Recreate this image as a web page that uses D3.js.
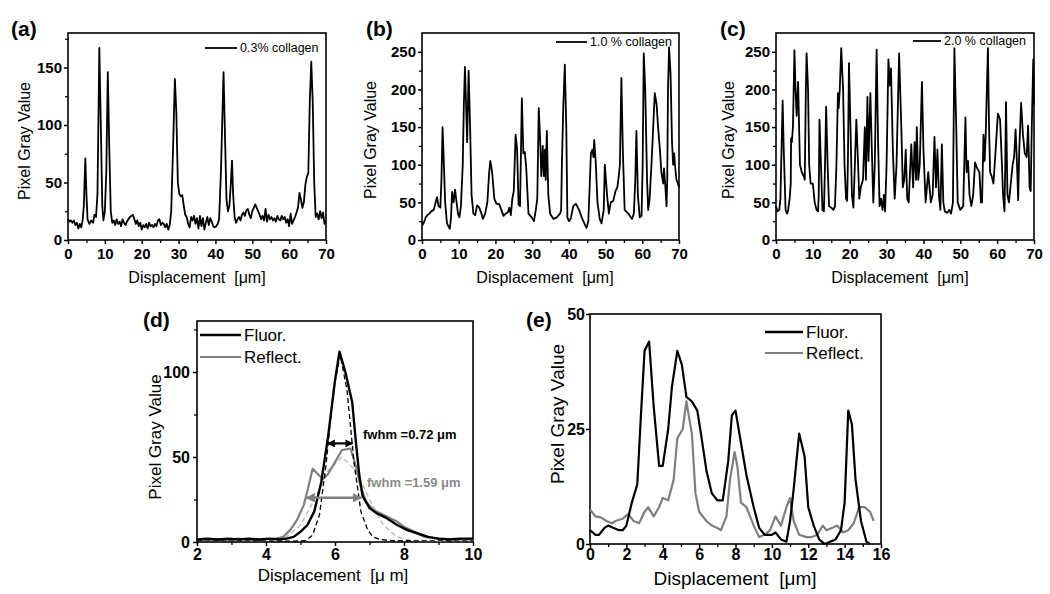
<!DOCTYPE html>
<html><head><meta charset="utf-8">
<script src="https://cdn.jsdelivr.net/npm/d3@7"></script>
<style>
body{margin:0;background:#fff;}
svg{font-family:"Liberation Sans",Arial,sans-serif;}
.tk text{font-family:"Liberation Sans",Arial,sans-serif;font-weight:bold;fill:#000;}
</style></head>
<body><svg id="c" width="1050" height="594"></svg>
<script>
// ---------- DATA ----------
const profile03 = [[0,18],[0.4,16],[0.8,17],[1.2,15],[1.6,17],[2.0,13],[2.4,15],[2.8,10],[3.2,14],[3.6,11],[4.0,18],[4.3,30],[4.7,71],[5.0,40],[5.3,18],[5.8,14],[6.3,17],[6.8,15],[7.2,22],[7.6,20],[8.0,40],[8.5,167],[8.9,100],[9.3,30],[9.6,17],[10.0,25],[10.4,60],[10.8,146],[11.2,80],[11.6,25],[12.0,15],[12.4,17],[12.8,13],[13.2,18],[13.6,14],[14.0,16],[14.4,12],[14.8,18],[15.2,15],[15.6,13],[16.0,16],[16.4,18],[16.8,20],[17.2,21],[17.6,22],[18.0,18],[18.4,14],[18.8,17],[19.2,12],[19.6,15],[20.0,9],[20.4,13],[20.8,11],[21.2,14],[21.6,10],[22.0,15],[22.4,12],[22.8,13],[23.2,11],[23.6,14],[24.0,12],[24.4,17],[24.8,18],[25.2,13],[25.6,15],[26.0,14],[26.4,11],[26.8,14],[27.2,9],[27.6,13],[28.0,25],[28.5,80],[29.0,140],[29.4,110],[29.8,50],[30.2,40],[30.6,38],[31.0,39],[31.4,30],[31.8,22],[32.2,20],[32.6,14],[33.0,11],[33.4,20],[33.8,17],[34.2,21],[34.6,14],[35.0,19],[35.4,10],[35.8,21],[36.2,12],[36.6,19],[37.0,9],[37.4,15],[37.8,20],[38.2,13],[38.6,19],[39.0,16],[39.4,12],[39.8,11],[40.2,12],[40.6,14],[41.0,18],[41.5,60],[42.2,146],[42.6,90],[43.0,35],[43.4,25],[43.8,30],[44.2,50],[44.5,69],[44.8,40],[45.2,20],[45.6,15],[46.0,18],[46.4,20],[46.8,17],[47.2,22],[47.6,24],[48.0,21],[48.4,26],[48.8,27],[49.2,22],[49.6,19],[50.0,25],[50.4,28],[50.8,31],[51.2,28],[51.6,25],[52.0,22],[52.4,18],[52.8,21],[53.2,17],[53.6,27],[54.0,16],[54.4,22],[54.8,18],[55.2,20],[55.6,17],[56.0,19],[56.4,16],[56.8,21],[57.2,18],[57.6,17],[58.0,21],[58.4,18],[58.8,20],[59.2,15],[59.6,18],[60.0,12],[60.4,23],[60.8,14],[61.2,17],[61.6,20],[62.0,24],[62.4,28],[62.8,41],[63.2,35],[63.6,28],[64.0,33],[64.4,48],[64.8,55],[65.2,58],[65.6,120],[66.0,155],[66.4,120],[66.8,50],[67.2,20],[67.6,23],[68.0,18],[68.4,25],[68.8,19],[69.2,24],[69.6,14],[70.0,17]];

const profile10 = [[0,25],[0.2,20],[0.6,24],[1.0,30],[1.5,33],[2.0,35],[2.5,38],[3.2,40],[3.8,52],[4.1,57],[4.5,45],[5.0,43],[5.3,80],[5.6,150],[5.9,110],[6.3,50],[6.8,22],[7.3,17],[7.6,15],[7.9,30],[8.2,64],[8.6,50],[9.0,67],[9.3,55],[9.8,35],[10.2,30],[10.6,45],[11.1,100],[11.4,180],[11.7,230],[12.0,180],[12.3,130],[12.7,225],[13.1,150],[13.5,60],[14.0,35],[14.5,33],[15.0,46],[15.6,43],[16.2,35],[16.6,28],[17.2,35],[17.8,50],[18.3,90],[18.6,105],[19.1,90],[19.7,55],[20.3,48],[21.0,48],[21.6,40],[22.2,32],[22.8,35],[23.4,37],[23.8,43],[24.2,33],[24.6,55],[25.0,65],[25.5,140],[25.9,120],[26.3,47],[26.7,45],[27.2,188],[27.6,115],[28.0,117],[28.4,95],[29.0,35],[29.9,30],[30.5,25],[31.0,40],[31.4,55],[31.8,175],[32.2,130],[32.5,85],[32.9,125],[33.2,85],[33.5,120],[33.7,80],[34.0,145],[34.4,60],[34.9,35],[35.8,28],[36.7,30],[37.6,35],[37.9,40],[38.1,100],[38.5,180],[38.9,233],[39.3,150],[39.6,30],[40.0,25],[40.5,28],[41.2,45],[41.9,48],[42.8,40],[43.5,30],[44.4,20],[44.8,16],[45.3,25],[45.7,75],[46.0,115],[46.4,120],[46.7,110],[46.9,133],[47.3,105],[47.8,50],[48.4,28],[48.9,22],[49.5,40],[49.8,100],[50.4,60],[50.9,35],[51.4,50],[52.1,52],[52.7,65],[53.2,70],[53.6,85],[53.9,100],[54.3,215],[54.7,120],[55.2,40],[56.2,35],[57.2,28],[57.7,35],[58.1,80],[58.4,145],[58.8,60],[59.3,30],[59.8,32],[60.1,100],[60.4,248],[60.8,200],[61.3,80],[61.6,40],[62.0,55],[62.5,100],[63.4,195],[63.9,180],[64.3,150],[64.8,120],[65.2,90],[65.7,75],[65.9,95],[66.3,70],[66.6,45],[66.8,80],[67.0,200],[67.3,256],[67.7,220],[68.1,130],[68.4,100],[68.7,115],[68.9,100],[69.3,80],[69.7,75],[70.0,70]];

const profile20 = [[0,45],[0.4,38],[0.9,40],[1.2,55],[1.5,120],[1.8,185],[2.1,120],[2.6,40],[3.0,35],[3.3,40],[3.7,55],[4.0,75],[4.1,135],[4.3,130],[4.6,150],[5.0,252],[5.3,200],[5.6,165],[6.0,210],[6.2,165],[6.5,100],[7.0,90],[7.5,85],[7.8,80],[8.1,200],[8.3,248],[8.7,200],[9.0,100],[9.4,75],[10.0,75],[10.5,50],[11.0,40],[11.4,38],[11.6,60],[11.8,160],[12.2,100],[12.6,40],[13.0,38],[13.3,100],[13.6,177],[14.0,100],[14.4,45],[15.0,43],[15.6,40],[16.0,45],[16.4,100],[16.8,195],[17.0,175],[17.3,200],[17.7,255],[18.2,200],[18.6,100],[19.0,55],[19.3,52],[19.5,100],[19.8,235],[20.2,150],[20.6,60],[21.0,43],[21.4,100],[21.8,160],[22.2,110],[22.6,55],[23.0,70],[23.6,80],[24.1,150],[24.4,80],[24.8,190],[25.1,105],[25.6,195],[26.0,120],[26.4,50],[26.8,100],[27.3,253],[27.7,130],[28.1,45],[28.5,55],[28.9,40],[29.3,60],[29.6,38],[30.0,100],[30.5,240],[30.9,205],[31.2,228],[31.7,120],[32.2,55],[32.7,100],[33.4,248],[34.0,150],[34.4,70],[34.8,80],[35.2,120],[35.6,55],[36.0,50],[36.7,127],[37.2,70],[37.6,130],[38.0,80],[38.2,150],[38.6,80],[39.0,100],[39.6,210],[40.0,120],[40.6,50],[41.3,90],[42.0,50],[42.5,60],[43.0,137],[43.4,70],[43.8,120],[44.2,60],[44.6,40],[45.0,127],[45.4,50],[45.8,38],[46.5,36],[47.0,40],[47.5,35],[48.0,50],[48.4,255],[48.9,150],[49.3,50],[50.0,40],[50.8,45],[51.4,163],[51.7,90],[52.1,105],[52.5,60],[53.0,45],[53.5,60],[54.0,103],[54.6,95],[55.2,90],[55.6,50],[55.9,50],[56.3,140],[56.6,105],[56.9,140],[57.5,255],[57.8,150],[58.1,90],[58.5,85],[59.0,75],[59.6,120],[60.2,168],[60.8,160],[61.3,100],[61.6,60],[62.0,38],[62.2,100],[62.4,183],[62.8,60],[63.2,50],[63.6,70],[64.2,100],[64.6,110],[65.0,147],[65.4,100],[65.7,53],[66.0,120],[66.5,182],[67.0,140],[67.5,115],[68.0,110],[68.4,152],[68.8,70],[69.1,65],[69.4,150],[69.8,240],[70.0,180]];

const fluorD = [[2,1.5],[2.3,2],[2.6,1.5],[2.9,2],[3.2,1.5],[3.5,2],[3.8,1.5],[4.1,2],[4.4,1.5],[4.6,2],[4.8,3],[5.0,6],[5.2,10],[5.4,18],[5.6,35],[5.8,62],[6.0,95],[6.13,112],[6.3,100],[6.5,82],[6.6,60],[6.7,40],[6.8,27],[7.0,20],[7.2,17],[7.5,14],[7.8,10],[8.1,7],[8.4,5],[8.7,3],[9.0,2],[9.3,1.5],[9.6,2],[10,2]];
const reflectD = [[2,1],[2.4,1.5],[2.8,1],[3.2,2],[3.6,1],[4.0,1.5],[4.3,2],[4.5,3],[4.7,7],[4.9,13],[5.1,22],[5.2,30],[5.35,43],[5.5,40],[5.65,37],[5.8,40],[6.0,47],[6.2,54],[6.45,55],[6.6,45],[6.75,32],[6.9,24],[7.1,19],[7.4,16],[7.6,14],[7.8,12],[8.0,9],[8.3,6],[8.6,3],[9.0,2],[9.5,1.5],[10,1.5]];
const fitFluorD = [[2,0.5],[3,0.5],[4,0.5],[4.8,0.5],[5.15,0.8],[5.35,4],[5.55,16],[5.75,47],[5.95,89],[6.15,110],[6.35,89],[6.55,47],[6.75,18],[6.95,7],[7.1,3],[7.3,1.5],[7.6,0.8],[10,0.5]];
const fitReflectD = [[2,0.5],[4,0.6],[4.6,3],[5.0,10],[5.4,25],[5.8,42],[6.2,50],[6.6,42],[7.0,25],[7.4,10],[7.8,3],[8.2,1],[9,0.5],[10,0.5]];

const fluorE = [[0,3],[0.3,2],[0.5,2],[0.8,3.5],[1.0,4],[1.3,3.5],[1.6,3],[1.8,3],[2.0,4],[2.3,9],[2.6,13],[2.8,28],[3.0,42],[3.25,44],[3.5,30],[3.8,17],[4.0,17],[4.3,25],[4.5,34],[4.8,42],[5.05,39],[5.3,32],[5.6,31],[5.9,29],[6.1,24],[6.4,16],[6.7,11],[7.0,9.5],[7.3,9.5],[7.6,18],[7.8,28],[8.0,29],[8.3,22],[8.6,15],[9.0,8],[9.3,3.5],[9.6,2],[10.0,2],[10.2,2.5],[10.5,1],[10.8,0.5],[11.0,5],[11.2,12],[11.5,24],[11.8,19],[12.0,8],[12.3,4],[12.6,1],[12.9,0],[13.2,0.5],[13.5,1],[13.8,3],[14.0,9],[14.2,29],[14.4,26],[14.6,14],[14.9,5],[15.2,0.5],[15.4,0]];
const reflectE = [[0,7.5],[0.3,6],[0.6,5.8],[0.9,5],[1.2,4.5],[1.4,5],[1.8,5.5],[2.1,6.5],[2.4,5],[2.7,4.5],[3.0,7],[3.2,8],[3.5,6],[3.8,8],[4.0,10],[4.3,9.5],[4.6,14],[4.8,23],[5.1,25],[5.3,31],[5.6,24],[5.8,11],[6.0,7],[6.4,5],[6.7,4],[7.0,3.5],[7.2,3],[7.5,6],[7.7,14],[7.95,20],[8.1,17],[8.3,9],[8.6,8],[9.0,4],[9.3,1.5],[9.6,2],[9.9,3],[10.2,6],[10.5,4],[10.8,8],[11.0,10],[11.2,5],[11.5,2],[11.9,1.5],[12.2,1.5],[12.5,2],[12.8,4],[13.0,3],[13.3,3.5],[13.6,4],[13.9,2.5],[14.2,3],[14.5,4.5],[14.8,8],[15.1,8],[15.4,7],[15.6,5]];

const fwhmLabels = ["fwhm =0.72 \u03bcm", "fwhm =1.59 \u03bcm"];
const fwhmArrowsD = [{x1:5.79, x2:6.51, y:58}, {x1:5.17, x2:6.76, y:26}];

const ticksABC_x = [0,10,20,30,40,50,60,70];
const ticksA_y = [0,50,100,150];
const ticksBC_y = [0,50,100,150,200,250];
const ticksD_x = [2,4,6,8,10];
const ticksD_y = [0,50,100];
const ticksE_x = [0,2,4,6,8,10,12,14,16];
const ticksE_y = [0,25,50];

// ---------- DRAW ----------
const svg = d3.select("#c");
const FONT = '"Liberation Sans",Arial,sans-serif';

function panel(cfg){
  const g = svg.append("g");
  const x = d3.scaleLinear().domain(cfg.xd).range([cfg.l, cfg.r]);
  const y = d3.scaleLinear().domain(cfg.yd).range([cfg.b, cfg.t]);
  if(cfg.xMinor){
    g.append("g").attr("transform",`translate(0,${cfg.b})`)
      .call(d3.axisBottom(x).tickValues(cfg.xMinor).tickSize(cfg.minorSize).tickFormat(""))
      .call(a=>a.select(".domain").remove())
      .selectAll("line").attr("stroke-width",1.3);
  }
  if(cfg.yMinor){
    g.append("g").attr("transform",`translate(${cfg.l},0)`)
      .call(d3.axisLeft(y).tickValues(cfg.yMinor).tickSize(cfg.minorSize).tickFormat(""))
      .call(a=>a.select(".domain").remove())
      .selectAll("line").attr("stroke-width",1.3);
  }
  const ax = g.append("g").attr("class","tk").attr("transform",`translate(0,${cfg.b})`)
    .call(d3.axisBottom(x).tickValues(cfg.xt).tickSize(cfg.tickSize).tickPadding(cfg.xPad).tickSizeOuter(0).tickFormat(d3.format("d")));
  const ay = g.append("g").attr("class","tk").attr("transform",`translate(${cfg.l},0)`)
    .call(d3.axisLeft(y).tickValues(cfg.yt).tickSize(cfg.tickSize).tickPadding(cfg.yPad).tickSizeOuter(0).tickFormat(d3.format("d")));
  [ax,ay].forEach(a=>{
    a.select(".domain").remove();
    a.attr("font-size",null).attr("font-family",null);
    a.selectAll("line").attr("stroke-width",1.5);
    a.selectAll("text").style("font-size",cfg.tickFont+"px").style("font-weight","bold");
  });
  g.append("rect").attr("x",cfg.l).attr("y",cfg.t).attr("width",cfg.r-cfg.l).attr("height",cfg.b-cfg.t)
    .attr("fill","none").attr("stroke","#000").attr("stroke-width",1.6);
  const line = d3.line().x(d=>x(d[0])).y(d=>y(d[1]));
  cfg.series.forEach(s=>{
    g.append("path").datum(s.data).attr("d",line).attr("fill","none")
      .attr("stroke",s.color).attr("stroke-width",s.w).attr("stroke-dasharray",s.dash||null)
      .attr("stroke-linejoin","round");
  });
  g.append("text").attr("x",cfg.plx).attr("y",cfg.ply).attr("font-family",FONT).attr("font-weight","bold")
    .attr("font-size",21).text(cfg.panel);
  g.append("text").attr("transform",`translate(${cfg.ylx},${cfg.yly}) rotate(-90)`).attr("text-anchor","middle")
    .attr("dominant-baseline","central").attr("font-family",FONT).attr("font-size",cfg.labFont).text("Pixel Gray Value");
  g.append("text").attr("x",cfg.xlx).attr("y",cfg.xly).attr("text-anchor","middle").style("white-space","pre")
    .attr("font-family",FONT).attr("font-size",cfg.labFont).text(cfg.xlab);
  cfg.legend.forEach(L=>{
    g.append("line").attr("x1",L.x1).attr("x2",L.x2).attr("y1",L.y).attr("y2",L.y)
      .attr("stroke",L.color).attr("stroke-width",L.w);
    g.append("text").attr("x",L.x2+3).attr("y",L.y).attr("dy","0.35em").attr("font-family",FONT)
      .attr("font-size",L.fs).text(L.text);
  });
  return {g,x,y};
}

const m5 = d3.range(5,70,10);
const m25bc = d3.range(25,275,50);
const m25a = [25,75,125,175];

panel({l:68,r:326,t:33,b:240,xd:[0,70],yd:[0,180],xt:ticksABC_x,yt:ticksA_y,xMinor:m5,yMinor:m25a,
  tickSize:4,minorSize:3,xPad:4,yPad:2,tickFont:15,labFont:16,
  series:[{data:profile03,color:"#000",w:1.8}],
  panel:"(a)",plx:11,ply:36,ylx:24,yly:141,xlx:197,xly:283,xlab:"Displacement  [\u03bcm]",
  legend:[{x1:205,x2:237,y:48,color:"#000",w:1.8,fs:12.5,text:"0.3% collagen"}]});

panel({l:422,r:679,t:33,b:240,xd:[0,70],yd:[0,275],xt:ticksABC_x,yt:ticksBC_y,xMinor:m5,yMinor:m25bc,
  tickSize:4,minorSize:3,xPad:4,yPad:2,tickFont:15,labFont:16,
  series:[{data:profile10,color:"#000",w:1.8}],
  panel:"(b)",plx:366,ply:36,ylx:370,yly:140,xlx:545,xly:283,xlab:"Displacement  [\u03bcm]",
  legend:[{x1:556,x2:587,y:42,color:"#000",w:1.8,fs:12.5,text:"1.0 % collagen"}]});

panel({l:776,r:1034,t:33,b:240,xd:[0,70],yd:[0,275],xt:ticksABC_x,yt:ticksBC_y,xMinor:m5,yMinor:m25bc,
  tickSize:4,minorSize:3,xPad:4,yPad:2,tickFont:15,labFont:16,
  series:[{data:profile20,color:"#000",w:1.8}],
  panel:"(c)",plx:720,ply:36,ylx:728,yly:140,xlx:900,xly:283,xlab:"Displacement  [\u03bcm]",
  legend:[{x1:913,x2:941,y:41,color:"#000",w:1.8,fs:12.5,text:"2.0 % collagen"}]});

const pd = panel({l:197,r:473,t:321,b:542,xd:[2,10],yd:[0,130],xt:ticksD_x,yt:ticksD_y,xMinor:[3,5,7,9],yMinor:[25,75,125],
  tickSize:4,minorSize:3,xPad:3,yPad:3,tickFont:16,labFont:17,
  series:[{data:fitReflectD,color:"#bdbdbd",w:1.5,dash:"5,3"},
          {data:reflectD,color:"#7f7f7f",w:2.2},
          {data:fluorD,color:"#000",w:2.4},
          {data:fitFluorD,color:"#000",w:1.3,dash:"5,3"}],
  panel:"(d)",plx:143,ply:327,ylx:155,yly:437,xlx:333,xly:581,xlab:"Displacement  [\u03bc m]",
  legend:[{x1:200,x2:241,y:335,color:"#000",w:2.4,fs:17,text:"Fluor."},
          {x1:200,x2:241,y:357,color:"#7f7f7f",w:2.2,fs:17,text:"Reflect."}]});

const defs = svg.append("defs");
[["hb","#000"],["hg","#7f7f7f"]].forEach(([id,c])=>{
  defs.append("marker").attr("id",id).attr("viewBox","0 0 10 10").attr("refX",9).attr("refY",5)
    .attr("markerWidth",3.6).attr("markerHeight",3.6).attr("orient","auto-start-reverse")
    .append("path").attr("d","M0,0L10,5L0,10z").attr("fill",c);
});
const arrowCols = ["#000","#7f7f7f"], arrowMk = ["hb","hg"], arrowW=[2.2,2.6];
fwhmArrowsD.forEach((a,i)=>{
  pd.g.append("line").attr("x1",pd.x(a.x1)).attr("x2",pd.x(a.x2)).attr("y1",pd.y(a.y)).attr("y2",pd.y(a.y))
    .attr("stroke",arrowCols[i]).attr("stroke-width",arrowW[i])
    .attr("marker-start",`url(#${arrowMk[i]})`).attr("marker-end",`url(#${arrowMk[i]})`);
});
pd.g.append("text").attr("x",363).attr("y",439).attr("font-family",FONT).attr("font-weight","bold")
  .attr("font-size",13).attr("fill","#000").text(fwhmLabels[0]);
pd.g.append("text").attr("x",367).attr("y",487).attr("font-family",FONT).attr("font-weight","bold")
  .attr("font-size",13).attr("fill","#8a8a8a").text(fwhmLabels[1]);

panel({l:590,r:881,t:314,b:544,xd:[0,16],yd:[0,50],xt:ticksE_x,yt:ticksE_y,xMinor:[1,3,5,7,9,11,13,15],yMinor:null,
  tickSize:4,minorSize:3,xPad:1,yPad:1,tickFont:16,labFont:19,
  series:[{data:reflectE,color:"#7f7f7f",w:2.2},{data:fluorE,color:"#000",w:2.2}],
  panel:"(e)",plx:526,ply:327,ylx:557,yly:414,xlx:735,xly:585,xlab:"Displacement  [\u03bcm]",
  legend:[{x1:765,x2:803,y:332,color:"#000",w:2.4,fs:17,text:"Fluor."},
          {x1:765,x2:803,y:353,color:"#7f7f7f",w:2.2,fs:17,text:"Reflect."}]});
</script></body></html>
